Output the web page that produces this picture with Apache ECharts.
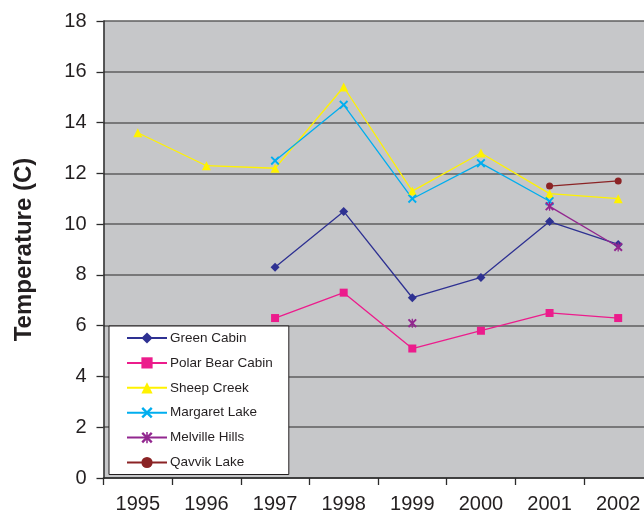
<!DOCTYPE html>
<html>
<head>
<meta charset="utf-8">
<script src="https://cdn.jsdelivr.net/npm/echarts@6/dist/echarts.min.js"></script>
<style>html,body{margin:0;padding:0;background:#fff;overflow:hidden}#c{width:644px;height:516px}</style>
</head>
<body>
<div id="c"></div>
<script>
const years = ['1995','1996','1997','1998','1999','2000','2001','2002'];
const greenCabin    = [null, null, 8.3, 10.5, 7.1, 7.9, 10.1, 9.2];
const polarBear     = [null, null, 6.3, 7.3, 5.1, 5.8, 6.5, 6.3];
const sheepCreek    = [13.6, 12.3, 12.2, 15.4, 11.3, 12.8, 11.2, 11.0];
const margaretLake  = [null, null, 12.5, 14.7, 11.0, 12.4, 10.9, null];
const melvilleHills = [null, null, null, null, 6.1, null, 10.7, 9.1];
const qavvikLake    = [null, null, null, null, null, null, 11.5, 11.7];
const yTicks = [0, 2, 4, 6, 8, 10, 12, 14, 16, 18];

const FONT = '"Liberation Sans", Arial, sans-serif';
const crossPath = 'path://M1.5,0 L5,3.5 L8.5,0 L10,1.5 L6.5,5 L10,8.5 L8.5,10 L5,6.5 L1.5,10 L0,8.5 L3.5,5 L0,1.5 Z';
const starPath = 'path://M1.5,0 L4.3,2.8 L4.3,0 L5.7,0 L5.7,2.8 L8.5,0 L10,1.5 L6.5,5 L10,8.5 L8.5,10 L5.7,7.2 L5.7,10 L4.3,10 L4.3,7.2 L1.5,10 L0,8.5 L3.5,5 L0,1.5 Z';

function line(name, data, color, symbol, size) {
  return {
    name, type: 'line', data, connectNulls: false,
    symbol, symbolSize: size, showAllSymbol: true,
    lineStyle: { color, width: 1.3 },
    itemStyle: { color },
    emphasis: { disabled: true },
    z: 3
  };
}

const chart = echarts.init(document.getElementById('c'), null, { renderer: 'canvas' });
chart.setOption({
  animation: false,
  backgroundColor: '#ffffff',
  grid: {
    left: 103.5, top: 21, height: 457, width: 549,
    outerBoundsMode: 'none',
    show: true, backgroundColor: '#C6C7C9', borderWidth: 0, containLabel: false
  },
  xAxis: {
    type: 'category', data: years, boundaryGap: true,
    axisLine: { lineStyle: { color: '#2b2b2b', width: 1.5 } },
    axisTick: { show: true, length: 7, lineStyle: { color: '#2b2b2b', width: 1.3 } },
    axisLabel: { color: '#231F20', fontSize: 20, fontFamily: FONT, margin: 16 },
    splitLine: { show: false }
  },
  yAxis: {
    type: 'value', min: 0, max: 18, interval: 2,
    name: 'Temperature (C)', nameLocation: 'middle', nameGap: 67,
    nameTextStyle: { color: '#231F20', fontSize: 24, fontWeight: 'bold', fontFamily: FONT },
    axisLine: { show: true, lineStyle: { color: '#2b2b2b', width: 1.5 } },
    axisTick: { show: true, length: 7, lineStyle: { color: '#2b2b2b', width: 1.3 } },
    axisLabel: { color: '#231F20', fontSize: 20, fontFamily: FONT, margin: 17,
      formatter: v => yTicks.includes(v) ? String(v) : '' },
    splitLine: { show: true, lineStyle: { color: '#5e5e5e', width: 1.6 } }
  },
  legend: {
    orient: 'vertical', left: 109, top: 326,
    backgroundColor: '#ffffff', borderColor: '#231F20', borderWidth: 1,
    padding: [5, 16, 5, 17],
    itemWidth: 40, itemHeight: 14, itemGap: 10.9,
    textStyle: { color: '#231F20', fontSize: 13.5, lineHeight: 14, fontFamily: FONT, padding: [0, 0, 0, -2] },
    data: ['Green Cabin', 'Polar Bear Cabin', 'Sheep Creek', 'Margaret Lake', 'Melville Hills', 'Qavvik Lake']
  },
  series: [
    line('Green Cabin', greenCabin, '#2E3192', 'diamond', 9),
    line('Polar Bear Cabin', polarBear, '#EC1C8C', 'rect', 8),
    line('Sheep Creek', sheepCreek, '#FFF200', 'triangle', 9),
    line('Margaret Lake', margaretLake, '#00AEEF', crossPath, 9),
    line('Melville Hills', melvilleHills, '#92278F', starPath, 9),
    line('Qavvik Lake', qavvikLake, '#8B2325', 'circle', 7)
  ]
});
</script>
</body>
</html>
